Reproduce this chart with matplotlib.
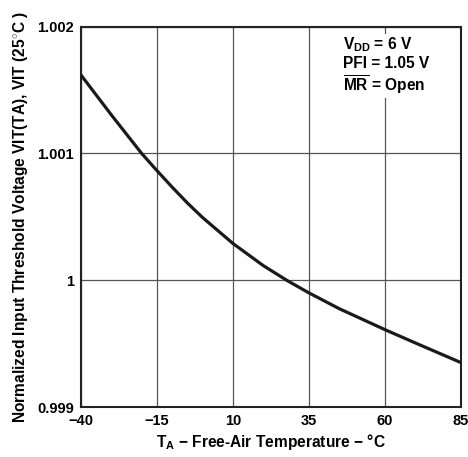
import matplotlib
matplotlib.use('Agg')
import matplotlib.pyplot as plt

# temperature (C) and normalized threshold voltage
temp = [-40, -30, -20, -15, -10, -5, 0, 10, 20, 28, 35, 45, 60, 70, 85]
vit = [1.001620, 1.001305, 1.001000, 1.000865, 1.000735, 1.000610, 1.000495,
       1.000290, 1.000115, 0.999995, 0.999900, 0.999775, 0.999610, 0.999505,
       0.999350]

xticks = [-40, -15, 10, 35, 60, 85]
yticks = [0.999, 1.0, 1.001, 1.002]
ylabels = ['0.999', '1', '1.001', '1.002']

plt.rcParams['font.family'] = 'Liberation Sans'
plt.rcParams['font.weight'] = 'bold'
plt.rcParams['mathtext.fontset'] = 'custom'
plt.rcParams['mathtext.rm'] = 'Liberation Sans:bold'
plt.rcParams['mathtext.bf'] = 'Liberation Sans:bold'
plt.rcParams['mathtext.it'] = 'Liberation Sans:bold'

fig = plt.figure(figsize=(4.68, 4.57), dpi=100)
ax = fig.add_axes([0.1725, 0.1094, 0.8125, 0.8326])

ax.plot(temp, vit, color='#1a1a1a', lw=2.3, zorder=3)

ax.set_xlim(-40, 85)
ax.set_ylim(0.999, 1.002)
ax.set_xticks(xticks)
ax.set_xticklabels([str(t).replace('-', '\u2212') for t in xticks])
ax.set_yticks(yticks)
ax.set_yticklabels(ylabels)
ax.tick_params(length=0, labelsize=10.5, pad=5)
ax.grid(True, color='#555555', lw=0.9)
for s in ax.spines.values():
    s.set_linewidth(1.5)
    s.set_color('#222222')

ax.set_xlabel('T$_{\\mathrm{A}}$ \u2212 Free-Air Temperature \u2212 \u00b0C', fontsize=11.2, fontweight='bold', labelpad=3)
ax.set_ylabel('Normalized Input Threshold Voltage VIT(TA), VIT (25$^{\\circ}$C )', fontsize=11.2, fontweight='bold', labelpad=5)

ax.text(46.2, 1.00193,
        '$\\mathbf{V_{DD}}$ = 6 V\nPFI = 1.05 V\n$\\overline{\\mathrm{MR}}$ = Open',
        fontsize=11.2, fontweight='bold', ha='left', va='top', linespacing=1.15,
        bbox=dict(facecolor='white', edgecolor='none', pad=1), zorder=4)

fig.savefig('out.png', dpi=100)
